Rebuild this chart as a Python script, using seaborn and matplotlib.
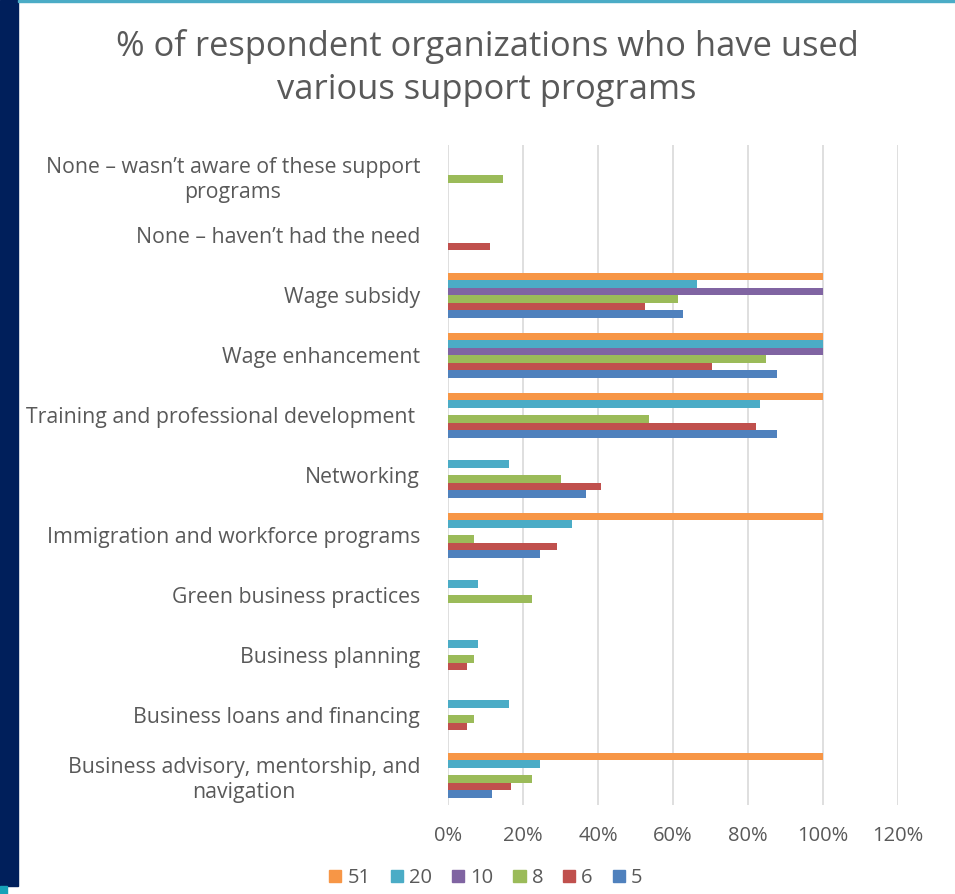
import pandas as pd
import matplotlib.pyplot as plt
import seaborn as sns
from matplotlib.patches import Rectangle
from matplotlib.ticker import FuncFormatter

# ==========================================
# 1. DATA
# ==========================================
categories = [
    "None \u2013 wasn\u2019t aware of these support\nprograms",
    "None \u2013 haven\u2019t had the need",
    "Wage subsidy",
    "Wage enhancement",
    "Training and professional development ",
    "Networking",
    "Immigration and workforce programs",
    "Green business practices",
    "Business planning",
    "Business loans and financing",
    "Business advisory, mentorship, and\nnavigation",
]

# % of organizations, one list per organization-size series
s51 = [0, 0, 100, 100, 100, 0, 100, 0, 0, 0, 100]
s20 = [0, 0, 66.5, 100, 83.2, 16.3, 33, 7.9, 7.9, 16.3, 24.6]
s10 = [0, 0, 100, 100, 0, 0, 0, 0, 0, 0, 0]
s8 = [14.6, 0, 61.4, 84.8, 53.6, 30.1, 6.8, 22.4, 6.8, 6.8, 22.4]
s6 = [0, 11.2, 52.5, 70.4, 82.0, 40.8, 29.1, 0, 5.1, 5.1, 16.8]
s5 = [0, 0, 62.6, 87.6, 87.6, 36.9, 24.6, 0, 0, 0, 11.7]

series_names = ["51", "20", "10", "8", "6", "5"]
series_values = [s51, s20, s10, s8, s6, s5]
colors = ["#F79646", "#4BACC6", "#8064A2", "#9BBB59", "#C0504D", "#4F81BD"]

rows = []
for name, vals in zip(series_names, series_values):
    for cat, v in zip(categories, vals):
        rows.append({"category": cat, "series": name, "value": v})
df = pd.DataFrame(rows)

# ==========================================
# 2. PLOT
# ==========================================
sns.set_style("white")
plt.rcParams["font.family"] = ["Open Sans", "DejaVu Sans"]
text_color = "#595959"

fig = plt.figure(figsize=(9.55, 8.94), dpi=100)
ax = fig.add_axes([448 / 955, 1 - 805 / 894, 450 / 955, 660 / 894])

sns.barplot(data=df, x="value", y="category", hue="series",
            order=categories, hue_order=series_names,
            palette=colors, saturation=1, orient="h", width=0.75,
            linewidth=0, ax=ax, legend=False)

ax.set_xlim(0, 120)
ax.set_xticks(range(0, 121, 20))
ax.xaxis.set_major_formatter(FuncFormatter(lambda v, p: f"{v:.0f}%"))
ax.grid(axis="x", color="#D9D9D9", linewidth=1.2)
ax.set_axisbelow(True)
sns.despine(ax=ax, left=True, bottom=True)
ax.set_xlabel("")
ax.set_ylabel("")
ax.tick_params(axis="y", length=0, pad=20, labelsize=15.3, labelcolor=text_color)
ax.tick_params(axis="x", length=0, pad=15, labelsize=14.5, labelcolor=text_color)
for t in ax.get_yticklabels():
    t.set_multialignment("center")
    t.set_linespacing(1.3)

# title
fig.text(487 / 955, 1 - 68 / 894,
         "% of respondent organizations who have used\nvarious support programs",
         ha="center", va="center", fontsize=24.8, color=text_color,
         linespacing=1.35)

# legend
handles = [Rectangle((0, 0), 1, 1, color=c) for c in colors]
fig.legend(handles, series_names, loc="center", ncol=6,
           bbox_to_anchor=(486 / 955, 1 - 878 / 894), frameon=False,
           fontsize=14.5, labelcolor=text_color, handlelength=0.6,
           handleheight=0.6, handletextpad=0.3, columnspacing=1.0,
           borderpad=0.2)

# slide decorations: navy strip on the left, teal line on top
fig.patches.append(Rectangle((0, 1 - 886 / 894), 18 / 955, 886 / 894,
                             transform=fig.transFigure, color="#001F5B", zorder=5))
fig.patches.append(Rectangle((18 / 955, 1 - 2 / 894), 1, 2 / 894,
                             transform=fig.transFigure, color="#4BACC6", zorder=5))
fig.patches.append(Rectangle((0, 0), 7 / 955, 8 / 894,
                             transform=fig.transFigure, color="#17A2B8", zorder=5))

fig.savefig("out.png", dpi=100, facecolor="white")
